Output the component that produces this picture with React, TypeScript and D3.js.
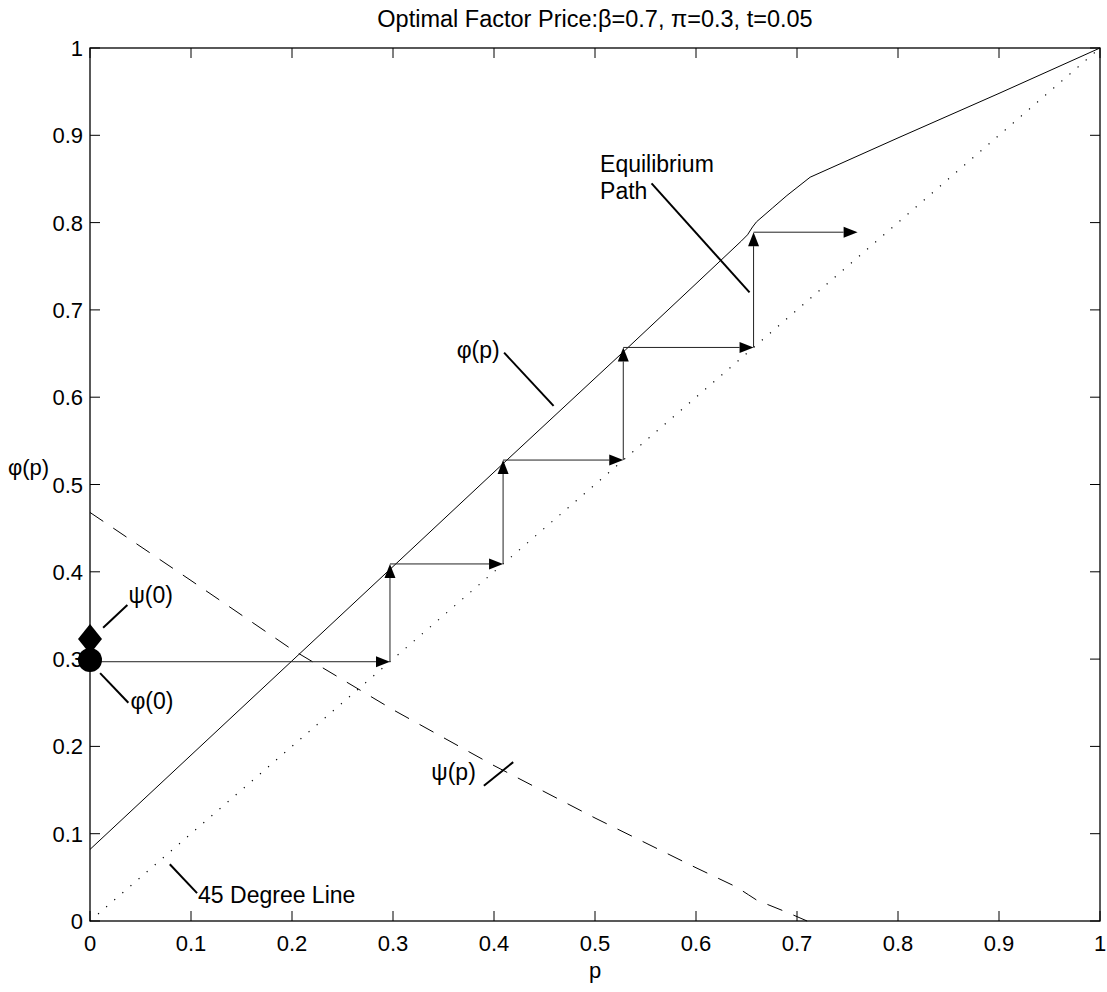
import React from "react";
import * as d3 from "d3";

const W = 1107;
const H = 992;
const M = { left: 90, right: 1100, top: 48, bottom: 921 };

const ticks = [0, 0.1, 0.2, 0.3, 0.4, 0.5, 0.6, 0.7, 0.8, 0.9, 1];
const tickLabels = ["0", "0.1", "0.2", "0.3", "0.4", "0.5", "0.6", "0.7", "0.8", "0.9", "1"];

// phi(p) solid curve
const phiP = [0, 0.1, 0.2, 0.3, 0.41, 0.53, 0.6, 0.645, 0.651, 0.656, 0.66, 0.676, 0.69, 0.713, 0.8, 0.9, 1.0];
const phiV = [0.082, 0.19, 0.298, 0.406, 0.525, 0.654, 0.73, 0.779, 0.786, 0.795, 0.801, 0.817, 0.831, 0.852, 0.897, 0.948, 1.0];

// psi(p) dashed curve
const psiP = [0, 0.1, 0.2, 0.3, 0.4, 0.5, 0.6, 0.64, 0.652, 0.66, 0.69, 0.71];
const psiV = [0.468, 0.39, 0.311, 0.242, 0.178, 0.118, 0.061, 0.039, 0.03, 0.024, 0.01, 0.0];

// equilibrium path levels
const pathLevels = [0.297, 0.409, 0.528, 0.657, 0.789];
const pathEnd = 0.76;

// markers
const psi0 = 0.323;
const phi0 = 0.299;

const title = "Optimal Factor Price:\u03b2=0.7, \u03c0=0.3, t=0.05";

const FONT = "'Liberation Sans', Arial, Helvetica, sans-serif";

function Arrow({ x1, y1, x2, y2 }: { x1: number; y1: number; x2: number; y2: number }) {
  const len = 14;
  const hw = 5.5;
  const dx = x2 - x1;
  const dy = y2 - y1;
  const d = Math.sqrt(dx * dx + dy * dy);
  const ux = dx / d;
  const uy = dy / d;
  const bx = x2 - ux * len;
  const by = y2 - uy * len;
  const pts = `${x2},${y2} ${bx - uy * hw},${by + ux * hw} ${bx + uy * hw},${by - ux * hw}`;
  return (
    <g>
      <line x1={x1} y1={y1} x2={bx} y2={by} stroke="#222" strokeWidth={1} />
      <polygon points={pts} fill="#000" />
    </g>
  );
}

export default function App() {
  const x = d3.scaleLinear().domain([0, 1]).range([M.left, M.right]);
  const y = d3.scaleLinear().domain([0, 1]).range([M.bottom, M.top]);

  const line = d3
    .line<[number, number]>()
    .x((d) => x(d[0]))
    .y((d) => y(d[1]));

  const phiPath = line(phiP.map((p, i) => [p, phiV[i]] as [number, number])) || "";
  const psiPath = line(psiP.map((p, i) => [p, psiV[i]] as [number, number])) || "";
  const diagPath = line([[0, 0], [1, 1]]) || "";

  const arrows: { x1: number; y1: number; x2: number; y2: number }[] = [];
  arrows.push({ x1: x(0), y1: y(pathLevels[0]), x2: x(pathLevels[0]), y2: y(pathLevels[0]) });
  for (let i = 0; i < pathLevels.length - 1; i++) {
    const a = pathLevels[i];
    const b = pathLevels[i + 1];
    arrows.push({ x1: x(a), y1: y(a), x2: x(a), y2: y(b) });
    const endX = i + 1 < pathLevels.length - 1 ? b : pathEnd;
    arrows.push({ x1: x(a), y1: y(b), x2: x(endX), y2: y(b) });
  }

  const tickLen = 10;
  const fs = 22;
  const afs = 23;

  const diamond = `${x(0)},${y(psi0) - 15} ${x(0) + 12},${y(psi0)} ${x(0)},${y(psi0) + 15} ${x(0) - 12},${y(psi0)}`;

  const annLine = (a: [number, number], b: [number, number]) => (
    <line x1={x(a[0])} y1={y(a[1])} x2={x(b[0])} y2={y(b[1])} stroke="#000" strokeWidth={2} />
  );

  return (
    <svg width={W} height={H} style={{ position: "absolute", left: 0, top: 0, background: "#fff" }} fontFamily={FONT}>
      <rect x={0} y={0} width={W} height={H} fill="#fff" />
      {/* title */}
      <text x={(M.left + M.right) / 2} y={27} fontSize={23.5} textAnchor="middle">
        {title}
      </text>

      {/* curves */}
      <path d={diagPath} fill="none" stroke="#000" strokeWidth={1.2} strokeDasharray="1.2,9.5" />
      <path d={psiPath} fill="none" stroke="#000" strokeWidth={1} strokeDasharray="16,12" />
      <path d={phiPath} fill="none" stroke="#000" strokeWidth={1} />

      {arrows.map((a, i) => (
        <Arrow key={i} {...a} />
      ))}

      {/* axes box */}
      <rect x={M.left} y={M.top} width={M.right - M.left} height={M.bottom - M.top} fill="none" stroke="#000" strokeWidth={1.3} />
      {ticks.map((t, i) => (
        <g key={i}>
          <line x1={x(t)} y1={M.bottom} x2={x(t)} y2={M.bottom - tickLen} stroke="#000" />
          <line x1={x(t)} y1={M.top} x2={x(t)} y2={M.top + tickLen} stroke="#000" />
          <line x1={M.left} y1={y(t)} x2={M.left + tickLen} y2={y(t)} stroke="#000" />
          <line x1={M.right} y1={y(t)} x2={M.right - tickLen} y2={y(t)} stroke="#000" />
          <text x={x(t)} y={M.bottom + 30} fontSize={fs} textAnchor="middle">
            {tickLabels[i]}
          </text>
          <text x={M.left - 7} y={y(t) + 8} fontSize={fs} textAnchor="end">
            {tickLabels[i]}
          </text>
        </g>
      ))}

      {/* axis labels */}
      <text x={(M.left + M.right) / 2} y={978} fontSize={fs} textAnchor="middle">p</text>
      <text x={8} y={475} fontSize={fs}>{"\u03c6(p)"}</text>

      {/* markers */}
      <polygon points={diamond} fill="#000" />
      <circle cx={x(0)} cy={y(phi0)} r={12} fill="#000" />

      {/* annotations */}
      <text x={x(0.505)} y={y(0.858)} fontSize={afs}>Equilibrium</text>
      <text x={x(0.505)} y={y(0.827)} fontSize={afs}>Path</text>
      {annLine([0.556, 0.845], [0.653, 0.72])}

      <text x={x(0.363)} y={y(0.645)} fontSize={afs}>{"\u03c6(p)"}</text>
      {annLine([0.41, 0.651], [0.459, 0.59])}

      <text x={x(0.382)} y={y(0.162)} fontSize={afs} textAnchor="end">{"\u03c8(p)"}</text>
      {annLine([0.39, 0.155], [0.419, 0.182])}

      <text x={x(0.107)} y={y(0.021)} fontSize={afs}>45 Degree Line</text>
      {annLine([0.079, 0.065], [0.106, 0.032])}

      <text x={x(0.038)} y={y(0.364)} fontSize={afs}>{"\u03c8(0)"}</text>
      {annLine([0.013, 0.336], [0.037, 0.362])}

      <text x={x(0.04)} y={y(0.243)} fontSize={afs}>{"\u03c6(0)"}</text>
      {annLine([0.01, 0.284], [0.038, 0.25])}
    </svg>
  );
}
